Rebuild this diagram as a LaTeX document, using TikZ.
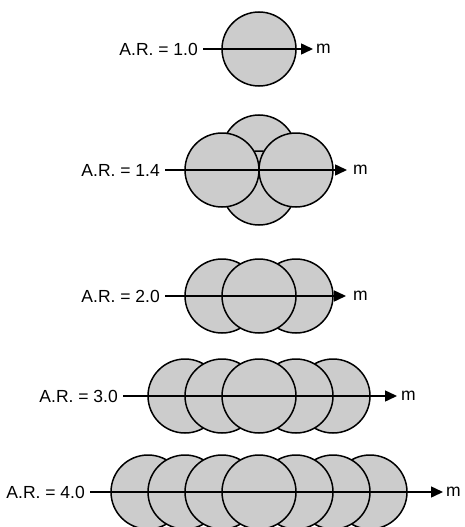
\documentclass[tikz,border=0pt]{standalone}
\usepackage{fontspec}
\setmainfont{Liberation Sans}
\usetikzlibrary{arrows.meta}
\begin{document}
\begin{tikzpicture}[x=1pt,y=-1pt,
  ball/.style={circle,draw=black,fill=black!20,line width=1.5pt,minimum size=74pt,inner sep=0pt},
  lbl/.style={font=\fontsize{17.5}{20}\selectfont,inner sep=5pt,anchor=east},
  mlbl/.style={font=\fontsize{17.5}{20}\selectfont,inner sep=0pt,anchor=west},
  axis/.style={line width=1.5pt,-{Triangle[length=12pt,width=11pt]}}]
\useasboundingbox (0,0) rectangle (464,527);
% Row 1
\node[ball] (a1) at (259,49) {};
\node[lbl] (l1) at (203,49) {A.R. = 1.0};
\coordinate (e1) at (313,49);
\node[mlbl] (m1) at (316,49) {m};
\draw[axis] (l1) -- (e1);
% Row 2
\node[ball] (b1) at (259,152) {};
\node[ball] (b2) at (259,188) {};
\node[ball] (b3) at (222,170) {};
\node[ball] (b4) at (296,170) {};
\node[lbl] (l2) at (165,170) {A.R. = 1.4};
\coordinate (e2) at (347,170);
\node[mlbl] (m2) at (353,170) {m};
\draw[axis] (l2) -- (e2);
% Row 3
\node[ball] (c1) at (222,296) {};
\node[ball] (c3) at (296,296) {};
\node[ball] (c2) at (259,296) {};
\node[lbl] (l3) at (165,296) {A.R. = 2.0};
\coordinate (e3) at (346,296);
\node[mlbl] (m3) at (353,296) {m};
\draw[axis] (l3) -- (e3);
% Row 4
\node[ball] (d1) at (185,396) {};
\node[ball] (d5) at (333,396) {};
\node[ball] (d2) at (222,396) {};
\node[ball] (d4) at (296,396) {};
\node[ball] (d3) at (259,396) {};
\node[lbl] (l4) at (123,396) {A.R. = 3.0};
\coordinate (e4) at (397,396);
\node[mlbl] (m4) at (401,396) {m};
\draw[axis] (l4) -- (e4);
% Row 5
\node[ball] (f1) at (148,492) {};
\node[ball] (f7) at (370,492) {};
\node[ball] (f2) at (185,492) {};
\node[ball] (f6) at (333,492) {};
\node[ball] (f3) at (222,492) {};
\node[ball] (f5) at (296,492) {};
\node[ball] (f4) at (259,492) {};
\node[lbl] (l5) at (90,492) {A.R. = 4.0};
\coordinate (e5) at (443,492);
\node[mlbl] (m5) at (446,492) {m};
\draw[axis] (l5) -- (e5);
\end{tikzpicture}
\end{document}
